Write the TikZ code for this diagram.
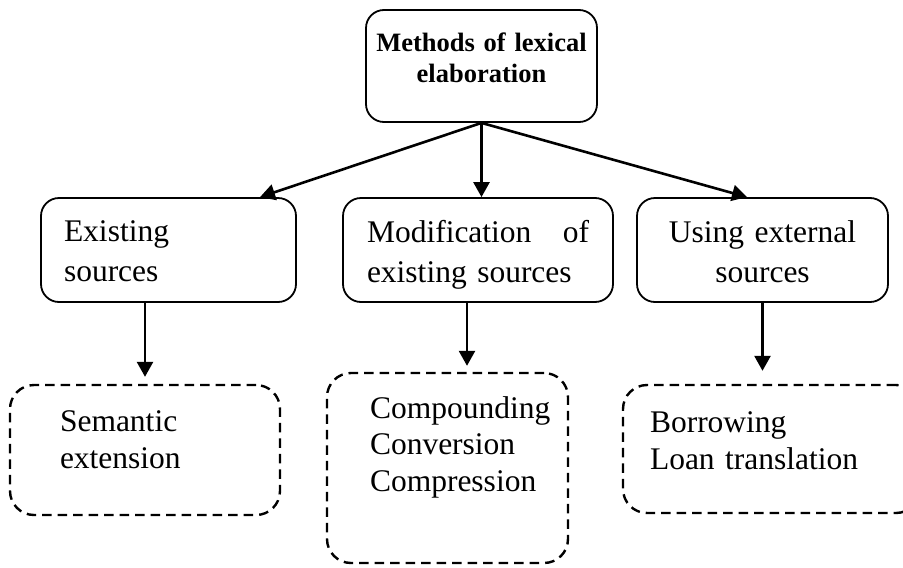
\documentclass[tikz,border=0pt]{standalone}
\usepackage{fontspec}
\setmainfont{Liberation Serif}
\usetikzlibrary{arrows.meta,calc}

\begin{document}
\begin{tikzpicture}[x=1pt,y=-1pt,->,>={Triangle[length=15pt,width=16pt]},
  line width=2.6pt,
  base node/.style={draw,line width=1.8pt,inner ysep=2pt,align=left,
    font=\fontsize{31.5}{40}\selectfont},
  top node/.style={base node,rounded corners=18pt,align=center,text width=221pt,
    inner xsep=5pt,minimum height=112pt,text depth=48.5pt,
    font=\bfseries\fontsize{26.5}{31.5}\selectfont},
  mid node/.style={base node,rounded corners=18pt,minimum height=104pt,text depth=37pt},
  leaf node/.style={base node,dash pattern=on 9.5pt off 6pt,line width=2.4pt,
    rounded corners=24pt,font=\fontsize{31.5}{36.5}\selectfont,
    execute at begin node={\hyphenpenalty=10000\relax}}]

  \clip (0,0) rectangle (903,568);

  \node[top node] (meth) at (481.5,66) {Methods of lexical\\elaboration};

  \node[mid node,text width=209pt,inner xsep=23pt] (ex) at (168.5,250) {Existing\\sources};
  \node[mid node,text width=222pt,inner xsep=24pt] (mod) at (478,250) {Modification \hfill of\\existing sources};
  \node[mid node,align=center,text width=211pt,inner xsep=20pt] (ext) at (762.5,250) {Using external\\sources};

  \node[leaf node,text width=170pt,inner xsep=50pt,minimum height=130pt,text depth=57.5pt] (sem) at (145,450) {Semantic\\extension};
  \node[leaf node,text width=155pt,inner xsep=43pt,minimum height=190pt,text depth=121.5pt] (comp) at (447.5,468) {Compounding\\Conversion\\Compression};
  \node[leaf node,text width=243pt,inner xsep=27pt,minimum height=128pt,text depth=53.5pt] (bor) at (771.5,449) {Borrowing\\Loan translation};

  % from the top box
  \draw (meth.south) -- ([xshift=91.5pt]ex.north);
  \draw (meth.south) -- (meth.south |- mod.north);
  \draw (meth.south) -- ([xshift=-15.5pt]ext.north);

  % down to the dashed boxes
  \draw[shorten >=7pt] (sem.north |- ex.south) -- (sem.north);
  \draw[shorten >=6pt] ([xshift=-11pt]mod.south) -- ([xshift=-11pt]mod.south |- comp.north);
  \draw[shorten >=13pt] (ext.south) -- (ext.south |- bor.north);
\end{tikzpicture}
\end{document}
